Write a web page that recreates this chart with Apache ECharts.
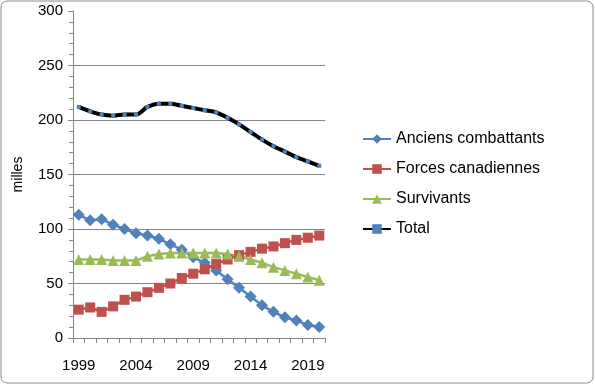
<!DOCTYPE html>
<html><head><meta charset="utf-8">
<script src="https://cdn.jsdelivr.net/npm/echarts@6/dist/echarts.min.js"></script>
<style>html,body{margin:0;padding:0;background:#fff}#c{width:595px;height:385px}</style>
</head><body><div id="c"></div>
<script>
const years = ['1999','2000','2001','2002','2003','2004','2005','2006','2007','2008','2009','2010','2011','2012','2013','2014','2015','2016','2017','2018','2019','2020'];
const anciens = [113,108,109,104,100,96,94,91,86,81,74,69,62,54,46,38,30,24,19,16,12,10];
const forces = [26,28,24,29,35,38,42,46,50,55,59,63,68,72,76,79,82,84,87,90,92,94];
const survivants = [72,72,72,71,71,71,75,77,78,78,78,78,78,77,75,72,69,65,62,59,56,53];
const total = [212,208,205,204,205,205,212,215,215,213,211,209,207,202,196,189,182,176,171,166,162,158];
const yTicks = [0,50,100,150,200,250,300];

const chart = echarts.init(document.getElementById('c'), null, {renderer:'canvas'});
const font = 'Liberation Sans, Arial, sans-serif';
chart.setOption({
  animation:false,
  textStyle:{fontFamily:font},
  graphic:[{type:'rect',shape:{x:1,y:1,width:592,height:382,r:6},style:{fill:'none',stroke:'#8c8c8c',lineWidth:1},z:-1}],
  grid:{left:73,right:270,top:11,bottom:47,containLabel:false},
  legend:{
    orient:'vertical',left:362,top:131,padding:0,itemGap:14,itemWidth:28,itemHeight:12,
    textStyle:{fontSize:16,color:'#000',fontFamily:font},
    data:['Anciens combattants','Forces canadiennes','Survivants','Total']
  },
  xAxis:{
    type:'category',data:years,boundaryGap:true,
    axisLine:{lineStyle:{color:'#868686'}},
    axisTick:{show:true,interval:0,length:5,lineStyle:{color:'#868686'}},
    axisLabel:{interval:4,fontSize:15,color:'#000',margin:20}
  },
  yAxis:{
    type:'value',min:yTicks[0],max:yTicks[yTicks.length-1],interval:50,
    name:'milles',nameLocation:'middle',nameGap:48,nameRotate:90,
    nameTextStyle:{fontSize:14,color:'#000'},
    axisLine:{show:true,lineStyle:{color:'#868686'}},
    axisTick:{show:true,length:5,lineStyle:{color:'#868686'}},
    minorTick:{show:true,splitNumber:5,length:4,lineStyle:{color:'#868686'}},
    axisLabel:{fontSize:15,color:'#000',margin:10},
    splitLine:{show:true,showMaxLine:false,lineStyle:{color:'#868686',width:1}}
  },
  series:[
    {name:'Anciens combattants',type:'line',data:anciens,symbol:'diamond',symbolSize:12,showAllSymbol:true,
     lineStyle:{color:'#4F81BD',width:2.5},itemStyle:{color:'#4F81BD'}},
    {name:'Forces canadiennes',type:'line',data:forces,symbol:'rect',symbolSize:10,showAllSymbol:true,
     lineStyle:{color:'#C0504D',width:2.5},itemStyle:{color:'#C0504D'}},
    {name:'Survivants',type:'line',data:survivants,symbol:'triangle',symbolSize:11,showAllSymbol:true,
     lineStyle:{color:'#9BBB59',width:2.5},itemStyle:{color:'#9BBB59'}},
    {name:'Total',type:'line',data:total,symbol:'rect',symbolSize:4,smooth:0.3,showAllSymbol:true,
     lineStyle:{color:'#000',width:4},itemStyle:{color:'#4F81BD'}}
  ]
});
</script></body></html>
